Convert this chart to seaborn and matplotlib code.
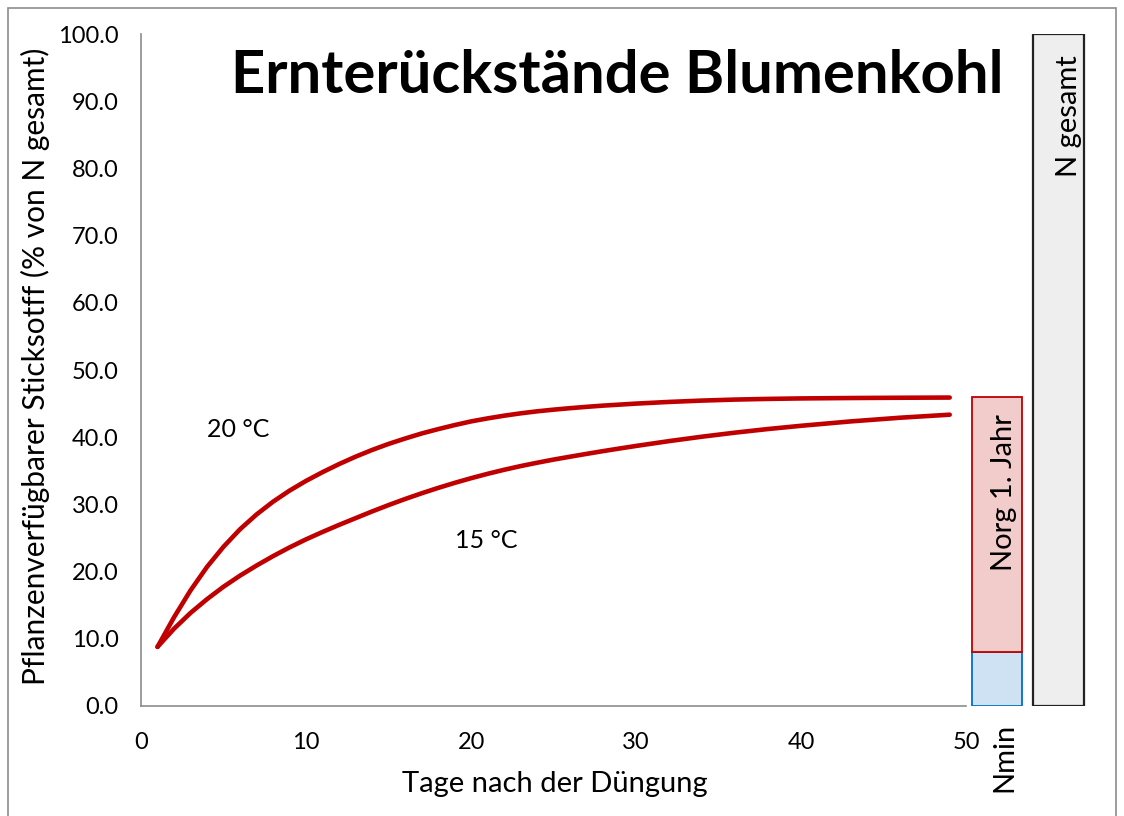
import matplotlib
matplotlib.use("Agg")
import matplotlib.pyplot as plt
import seaborn as sns
import pandas as pd
from matplotlib.patches import Rectangle

# ---- data ----
days = list(range(1, 31)) + [32, 34, 36, 38, 40, 43, 46, 49]
n_20c = [8.8, 13.2, 17.2, 20.7, 23.7, 26.3, 28.5, 30.4, 32.05, 33.5,
         34.8, 36.0, 37.1, 38.1, 39.0, 39.8, 40.55, 41.2, 41.8, 42.35,
         42.8, 43.2, 43.55, 43.85, 44.1, 44.32, 44.52, 44.7, 44.85, 45.0,
         45.25, 45.45, 45.6, 45.7, 45.77, 45.83, 45.87, 45.9]
n_15c = [8.8, 11.5, 13.85, 15.9, 17.75, 19.4, 20.9, 22.3, 23.6, 24.8,
         25.9, 26.95, 27.95, 28.95, 29.9, 30.8, 31.65, 32.45, 33.2, 33.9,
         34.55, 35.15, 35.7, 36.2, 36.67, 37.1, 37.52, 37.93, 38.32, 38.7,
         39.42, 40.08, 40.68, 41.22, 41.7, 42.35, 42.9, 43.35]
series_names = ["20 °C", "15 °C"]
bar_labels = ["Nmin", "Norg 1. Jahr", "N gesamt"]
nmin_value = 8.0
norg_value = 38.0
ngesamt_value = 100.0
x_ticks = [0, 10, 20, 30, 40, 50]
y_ticks = [0, 10, 20, 30, 40, 50, 60, 70, 80, 90, 100]

df = pd.DataFrame({
    "Tag": days + days,
    "N": n_20c + n_15c,
    "Serie": [series_names[0]] * len(days) + [series_names[1]] * len(days),
})

sns.set_theme(style="white")
plt.rcParams["font.family"] = ["Lato", "DejaVu Sans"]
plt.rcParams["text.color"] = "black"

W, H = 1124, 816
fig = plt.figure(figsize=(W / 100, H / 100), dpi=100)
ax = fig.add_axes([141 / W, 1 - 706 / H, (1090 - 141) / W, (706 - 34) / H])

red = "#c00000"
sns.lineplot(data=df, x="Tag", y="N", hue="Serie", palette=[red, red], linewidth=3.3,
             legend=False, ax=ax, solid_capstyle="round", solid_joinstyle="round")

# bars on the right
bx1, bw1 = 51.85, 3.05
bx2, bw2 = 55.6, 3.1
ax.bar([bx1], [nmin_value], width=bw1, color="#cfe2f3", edgecolor="#0070c0", linewidth=1.3, zorder=3)
ax.bar([bx1], [norg_value], bottom=[nmin_value], width=bw1, color="#f2cbcb", edgecolor=red,
       linewidth=1.3, zorder=3)
ax.bar([bx2], [ngesamt_value], width=bw2, color="#eeeeee", edgecolor="#222222", linewidth=1.6, zorder=3)

ax.set_xlim(0, 57.5)
ax.set_ylim(0, 100)
ax.set_xticks(x_ticks)
ax.set_xticklabels([str(t) for t in x_ticks])
ax.set_yticks(y_ticks)
ax.set_yticklabels([f"{t:.1f}" for t in y_ticks])
for s in ["top", "right"]:
    ax.spines[s].set_visible(False)
for s in ["left", "bottom"]:
    ax.spines[s].set_color("#8c8c8c")
    ax.spines[s].set_linewidth(1.2)
ax.spines["bottom"].set_bounds(0, 50)
ax.spines["left"].set_bounds(0, 100)
ax.tick_params(axis="both", which="major", direction="out", length=6, width=1.2, color="#8c8c8c",
               labelsize=17, labelcolor="black")
ax.tick_params(axis="x", pad=13)
ax.tick_params(axis="y", pad=10)
ax.set_xlabel("")
ax.set_ylabel("")
ax.grid(False)

# texts
ax.text(4.0, 41.1, series_names[0], fontsize=18, ha="left", va="center", color="black")
ax.text(19.0, 24.7, series_names[1], fontsize=18, ha="left", va="center", color="black")
ax.text(52.3, 31.7, bar_labels[1], rotation=90, fontsize=21, ha="center", va="center", zorder=4,
        color="black")
ax.text(56.2, 87.8, bar_labels[2], rotation=90, fontsize=21, ha="center", va="center", zorder=4,
        color="black")
ax.text(52.3, -7.7, bar_labels[0], rotation=90, fontsize=21, ha="center", va="center", clip_on=False,
        color="black")

fig.text(617.5 / W, 1 - 92.7 / H, "Ernterückstände Blumenkohl", fontsize=43, fontweight="bold",
         ha="center", va="baseline", color="black")
fig.text(554.5 / W, 1 - 784 / H, "Tage nach der Düngung", fontsize=21, ha="center", va="center",
         color="black")
fig.text(35 / W, 1 - 366 / H, "Pflanzenverfügbarer Sticksotff (% von N gesamt)", fontsize=21.5,
         rotation=90, ha="center", va="center", color="black")

# outer frame
fig.patches.append(Rectangle((8 / W, -0.05), (1116 - 8) / W, 1.05 - 8 / H, transform=fig.transFigure,
                             fill=False, edgecolor="#8c8c8c", linewidth=1.2))

fig.savefig("out.png", dpi=100)
